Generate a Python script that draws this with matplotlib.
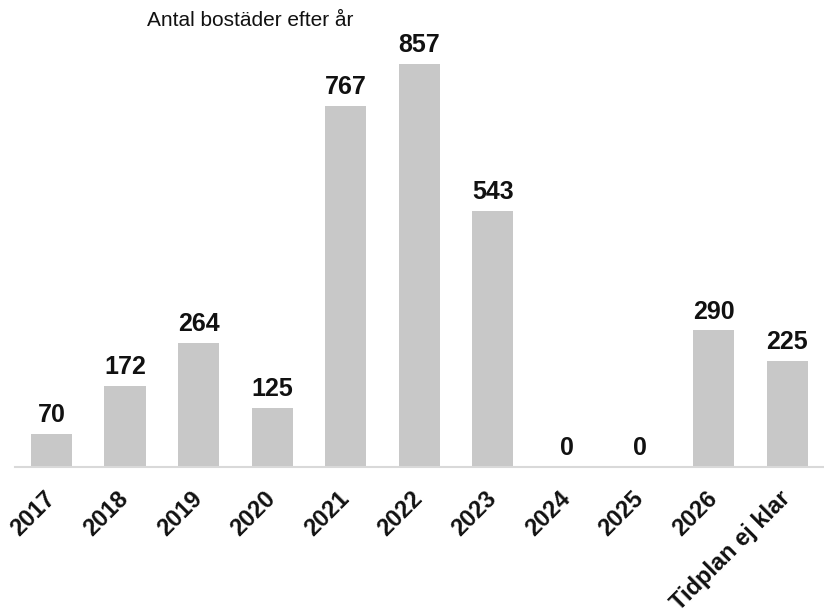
import matplotlib
matplotlib.use("Agg")
import matplotlib.pyplot as plt

categories = ["2017", "2018", "2019", "2020", "2021", "2022", "2023", "2024", "2025", "2026", "Tidplan ej klar"]
values = [70, 172, 264, 125, 767, 857, 543, 0, 0, 290, 225]
title = "Antal bostäder efter år"

plt.rcParams['font.family'] = ['Liberation Sans', 'DejaVu Sans']

fig = plt.figure(figsize=(8.24, 6.14), dpi=100)
ax = fig.add_axes([0.0177, 0.2394, 0.9823, 0.69])

x = list(range(len(categories)))
bars = ax.bar(x, values, width=0.56, color='#c8c8c8', zorder=2)
ax.set_xlim(-0.5, len(categories) - 0.5)
ax.set_ylim(0, 900)

for xi, v in zip(x, values):
    ax.annotate(str(v), (xi, v), xytext=(0, 5), textcoords='offset points',
                ha='center', va='bottom', fontsize=18, fontweight='bold', color='#111111')

ax.set_xticks(x)
ax.set_xticklabels(categories, rotation=45, ha='right', va='center', rotation_mode='anchor',
                   fontsize=17, fontweight='bold', color='#111111')
ax.tick_params(axis='x', length=0, pad=20)
ax.set_yticks([])
for s in ['top', 'right', 'left']:
    ax.spines[s].set_visible(False)
ax.spines['bottom'].set_color('#d9d9d9')
ax.spines['bottom'].set_linewidth(1.5)

fig.text(147 / 824, 1 - 21 / 614, title, fontsize=15, ha='left', va='center', color='#111111')

fig.savefig("out.png", dpi=100)
